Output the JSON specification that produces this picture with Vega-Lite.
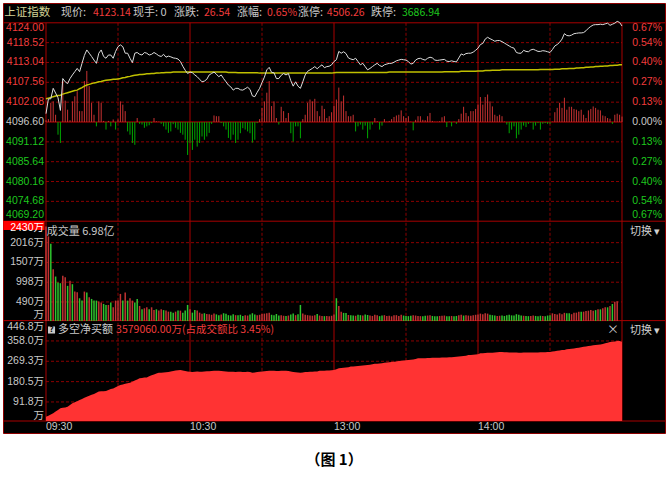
{
"$schema":"https://vega.github.io/schema/vega-lite/v6.json",
"width":662,"height":430,"autosize":"none",
"padding":{"left":3,"top":3,"right":3,"bottom":52},
"background":"#ffffff",
"config":{"view":{"fill":"#000000","stroke":"#8c0000"},"text":{"font":"Noto Sans CJK SC"}},
"title":{"text":"（图 1）","orient":"bottom","anchor":"middle","offset":20,"fontSize":15,"fontWeight":"bold","font":"Noto Sans CJK SC","color":"#000000","baseline":"top"},
"resolve":{"scale":{"y":"independent"}},
"datasets":{
"m":[
{"t":0,"p":4098.9,"a":4103.0,"b":0.5,"v":2430,"c":"r","n":27},
{"t":1,"p":4103.0,"a":4103.2,"b":0.8,"v":2177,"c":"r","n":32},
{"t":2,"p":4103.0,"a":4103.4,"b":5.3,"v":1988,"c":"g","n":37},
{"t":3,"p":4105.9,"a":4103.6,"b":5.7,"v":1334,"c":"r","n":42},
{"t":4,"p":4104.6,"a":4103.8,"b":2.0,"v":1144,"c":"g","n":50},
{"t":5,"p":4103.3,"a":4103.9,"b":-3.5,"v":989,"c":"g","n":57},
{"t":6,"p":4099.8,"a":4104.0,"b":-5.8,"v":973,"c":"g","n":64},
{"t":7,"p":4108.6,"a":4104.3,"b":11.3,"v":1162,"c":"r","n":66},
{"t":8,"p":4107.7,"a":4104.5,"b":5.9,"v":1128,"c":"r","n":68},
{"t":9,"p":4107.2,"a":4104.7,"b":3.4,"v":904,"c":"g","n":71},
{"t":10,"p":4108.6,"a":4104.9,"b":0.5,"v":1033,"c":"r","n":78},
{"t":11,"p":4109.6,"a":4105.1,"b":5.7,"v":947,"c":"g","n":86},
{"t":12,"p":4110.5,"a":4105.3,"b":7.1,"v":757,"c":"r","n":90},
{"t":13,"p":4111.4,"a":4105.4,"b":8.5,"v":740,"c":"r","n":95},
{"t":14,"p":4110.5,"a":4105.8,"b":3.0,"v":585,"c":"g","n":100},
{"t":15,"p":4112.8,"a":4106.1,"b":3.0,"v":525,"c":"g","n":105},
{"t":16,"p":4115.0,"a":4106.5,"b":11.3,"v":757,"c":"r","n":110},
{"t":17,"p":4116.5,"a":4106.8,"b":14.1,"v":732,"c":"g","n":115},
{"t":18,"p":4115.6,"a":4107.0,"b":9.9,"v":611,"c":"r","n":119},
{"t":19,"p":4114.7,"a":4107.2,"b":5.3,"v":568,"c":"g","n":123},
{"t":20,"p":4113.7,"a":4107.4,"b":2.0,"v":525,"c":"g","n":127},
{"t":21,"p":4112.8,"a":4107.5,"b":-1.2,"v":525,"c":"g","n":132},
{"t":22,"p":4115.6,"a":4107.7,"b":5.7,"v":499,"c":"r","n":137},
{"t":23,"p":4116.5,"a":4107.8,"b":5.3,"v":473,"c":"r","n":138},
{"t":24,"p":4114.7,"a":4108.0,"b":0.3,"v":439,"c":"g","n":139},
{"t":25,"p":4114.2,"a":4108.1,"b":-2.1,"v":413,"c":"g","n":140},
{"t":26,"p":4115.1,"a":4108.2,"b":0.3,"v":413,"c":"r","n":144},
{"t":27,"p":4115.1,"a":4108.3,"b":-1.2,"v":473,"c":"g","n":148},
{"t":28,"p":4114.2,"a":4108.4,"b":0.7,"v":353,"c":"r","n":151},
{"t":29,"p":4116.1,"a":4108.4,"b":-2.1,"v":525,"c":"r","n":156},
{"t":30,"p":4117.4,"a":4108.5,"b":0.7,"v":525,"c":"r","n":161},
{"t":31,"p":4117.9,"a":4108.6,"b":5.7,"v":697,"c":"r","n":166},
{"t":32,"p":4117.4,"a":4108.8,"b":4.8,"v":525,"c":"g","n":168},
{"t":33,"p":4115.6,"a":4108.9,"b":3.0,"v":732,"c":"r","n":171},
{"t":34,"p":4115.6,"a":4109.1,"b":-2.6,"v":525,"c":"g","n":173},
{"t":35,"p":4114.2,"a":4109.2,"b":-3.5,"v":585,"c":"r","n":176},
{"t":36,"p":4113.0,"a":4109.4,"b":-5.8,"v":525,"c":"r","n":180},
{"t":37,"p":4115.6,"a":4109.5,"b":-6.3,"v":473,"c":"g","n":185},
{"t":38,"p":4115.8,"a":4109.6,"b":1.1,"v":568,"c":"g","n":190},
{"t":39,"p":4115.3,"a":4109.7,"b":-0.5,"v":387,"c":"r","n":195},
{"t":40,"p":4115.1,"a":4109.7,"b":-0.7,"v":301,"c":"g","n":196},
{"t":41,"p":4115.8,"a":4109.8,"b":-1.6,"v":327,"c":"r","n":198},
{"t":42,"p":4115.6,"a":4109.9,"b":-1.2,"v":353,"c":"r","n":199},
{"t":43,"p":4115.1,"a":4109.9,"b":-0.9,"v":301,"c":"g","n":204},
{"t":44,"p":4115.3,"a":4110.0,"b":-0.3,"v":353,"c":"r","n":208},
{"t":45,"p":4115.8,"a":4110.0,"b":1.1,"v":280,"c":"r","n":212},
{"t":46,"p":4115.4,"a":4110.1,"b":0.2,"v":301,"c":"g","n":216},
{"t":47,"p":4114.9,"a":4110.1,"b":0.1,"v":267,"c":"r","n":219},
{"t":48,"p":4114.7,"a":4110.2,"b":-0.5,"v":301,"c":"r","n":219},
{"t":49,"p":4115.3,"a":4110.2,"b":-1.2,"v":280,"c":"g","n":220},
{"t":50,"p":4114.5,"a":4110.3,"b":-2.1,"v":267,"c":"r","n":221},
{"t":51,"p":4114.8,"a":4110.3,"b":-3.0,"v":241,"c":"r","n":223},
{"t":52,"p":4114.6,"a":4110.3,"b":-2.6,"v":241,"c":"g","n":225},
{"t":53,"p":4114.3,"a":4110.4,"b":-0.6,"v":215,"c":"g","n":227},
{"t":54,"p":4114.2,"a":4110.4,"b":-1.6,"v":241,"c":"r","n":229},
{"t":55,"p":4114.0,"a":4110.4,"b":-2.1,"v":267,"c":"g","n":230},
{"t":56,"p":4113.3,"a":4110.4,"b":-3.0,"v":267,"c":"r","n":231},
{"t":57,"p":4112.0,"a":4110.4,"b":-3.5,"v":215,"c":"g","n":229},
{"t":58,"p":4110.9,"a":4110.4,"b":-4.9,"v":267,"c":"g","n":227},
{"t":59,"p":4110.0,"a":4110.4,"b":-9.1,"v":413,"c":"g","n":225},
{"t":60,"p":4110.4,"a":4110.4,"b":-5.8,"v":301,"c":"r","n":224},
{"t":61,"p":4110.2,"a":4110.4,"b":-7.7,"v":215,"c":"g","n":223},
{"t":62,"p":4109.6,"a":4110.4,"b":-4.9,"v":280,"c":"g","n":224},
{"t":63,"p":4109.1,"a":4110.4,"b":-6.8,"v":267,"c":"r","n":225},
{"t":64,"p":4108.4,"a":4110.4,"b":-5.8,"v":215,"c":"r","n":224},
{"t":65,"p":4107.7,"a":4110.4,"b":-4.0,"v":189,"c":"r","n":224},
{"t":66,"p":4107.9,"a":4110.4,"b":-4.9,"v":200,"c":"g","n":225},
{"t":67,"p":4108.4,"a":4110.4,"b":-4.0,"v":180,"c":"r","n":226},
{"t":68,"p":4109.6,"a":4110.4,"b":-3.0,"v":175,"c":"r","n":226},
{"t":69,"p":4110.0,"a":4110.4,"b":-0.5,"v":160,"c":"r","n":227},
{"t":70,"p":4110.4,"a":4110.4,"b":1.8,"v":190,"c":"r","n":228},
{"t":71,"p":4109.8,"a":4110.4,"b":1.6,"v":170,"c":"g","n":228},
{"t":72,"p":4109.1,"a":4110.4,"b":1.6,"v":150,"c":"g","n":228},
{"t":73,"p":4109.6,"a":4110.4,"b":-0.3,"v":165,"c":"r","n":227},
{"t":74,"p":4108.6,"a":4110.4,"b":-1.2,"v":200,"c":"g","n":226},
{"t":75,"p":4107.7,"a":4110.4,"b":-2.1,"v":185,"c":"g","n":225},
{"t":76,"p":4106.8,"a":4110.3,"b":-4.4,"v":150,"c":"g","n":224},
{"t":77,"p":4106.3,"a":4110.3,"b":-4.9,"v":140,"c":"g","n":224},
{"t":78,"p":4105.4,"a":4110.3,"b":-3.5,"v":175,"c":"g","n":224},
{"t":79,"p":4105.9,"a":4110.3,"b":-5.8,"v":150,"c":"r","n":223},
{"t":80,"p":4105.9,"a":4110.2,"b":-4.9,"v":145,"c":"g","n":224},
{"t":81,"p":4105.5,"a":4110.2,"b":-3.1,"v":160,"c":"g","n":224},
{"t":82,"p":4105.4,"a":4110.2,"b":-1.7,"v":130,"c":"g","n":223},
{"t":83,"p":4105.8,"a":4110.2,"b":-2.1,"v":150,"c":"r","n":222},
{"t":84,"p":4106.2,"a":4110.2,"b":-2.6,"v":140,"c":"r","n":224},
{"t":85,"p":4105.6,"a":4110.2,"b":-3.1,"v":165,"c":"g","n":222},
{"t":86,"p":4103.8,"a":4110.2,"b":-5.7,"v":200,"c":"g","n":219},
{"t":87,"p":4103.6,"a":4110.2,"b":-4.9,"v":170,"c":"g","n":220},
{"t":88,"p":4104.8,"a":4110.2,"b":-0.3,"v":150,"c":"r","n":222},
{"t":89,"p":4105.9,"a":4110.1,"b":0.8,"v":160,"c":"r","n":224},
{"t":90,"p":4107.5,"a":4110.1,"b":3.9,"v":180,"c":"r","n":225},
{"t":91,"p":4109.0,"a":4110.1,"b":5.7,"v":190,"c":"r","n":226},
{"t":92,"p":4111.0,"a":4110.1,"b":8.1,"v":200,"c":"r","n":227},
{"t":93,"p":4111.7,"a":4110.1,"b":11.3,"v":215,"c":"r","n":228},
{"t":94,"p":4110.3,"a":4110.1,"b":4.4,"v":160,"c":"g","n":228},
{"t":95,"p":4110.2,"a":4110.1,"b":5.7,"v":150,"c":"g","n":228},
{"t":96,"p":4108.6,"a":4110.1,"b":1.1,"v":180,"c":"g","n":227},
{"t":97,"p":4108.6,"a":4110.1,"b":-0.7,"v":140,"c":"g","n":227},
{"t":98,"p":4109.5,"a":4110.1,"b":4.2,"v":150,"c":"r","n":228},
{"t":99,"p":4110.0,"a":4110.1,"b":3.0,"v":135,"c":"r","n":228},
{"t":100,"p":4109.6,"a":4110.1,"b":1.1,"v":130,"c":"g","n":228},
{"t":101,"p":4110.0,"a":4110.1,"b":2.5,"v":140,"c":"r","n":227},
{"t":102,"p":4108.0,"a":4110.1,"b":-3.1,"v":170,"c":"g","n":225},
{"t":103,"p":4106.5,"a":4110.1,"b":-5.4,"v":190,"c":"g","n":222},
{"t":104,"p":4107.7,"a":4110.1,"b":-1.2,"v":150,"c":"r","n":221},
{"t":105,"p":4106.5,"a":4110.1,"b":-1.2,"v":175,"c":"g","n":220},
{"t":106,"p":4105.9,"a":4110.1,"b":-4.5,"v":413,"c":"g","n":219},
{"t":107,"p":4107.7,"a":4110.1,"b":0.8,"v":190,"c":"r","n":220},
{"t":108,"p":4109.6,"a":4110.1,"b":2.0,"v":160,"c":"r","n":222},
{"t":109,"p":4110.6,"a":4110.1,"b":5.3,"v":150,"c":"r","n":223},
{"t":110,"p":4111.0,"a":4110.1,"b":6.2,"v":140,"c":"r","n":224},
{"t":111,"p":4111.4,"a":4110.1,"b":5.7,"v":135,"c":"r","n":224},
{"t":112,"p":4111.9,"a":4110.1,"b":6.4,"v":150,"c":"r","n":225},
{"t":113,"p":4111.3,"a":4110.1,"b":3.0,"v":180,"c":"g","n":225},
{"t":114,"p":4111.9,"a":4110.1,"b":1.6,"v":140,"c":"r","n":228},
{"t":115,"p":4112.4,"a":4110.1,"b":4.5,"v":130,"c":"r","n":228},
{"t":116,"p":4111.6,"a":4110.1,"b":3.6,"v":125,"c":"g","n":228},
{"t":117,"p":4111.9,"a":4110.1,"b":1.1,"v":130,"c":"r","n":229},
{"t":118,"p":4112.0,"a":4110.1,"b":1.6,"v":120,"c":"r","n":229},
{"t":119,"p":4112.4,"a":4110.1,"b":2.7,"v":135,"c":"r","n":230},
{"t":120,"p":4113.3,"a":4110.2,"b":4.4,"v":170,"c":"r","n":231},
{"t":121,"p":4113.8,"a":4110.3,"b":6.2,"v":586,"c":"g","n":235},
{"t":122,"p":4116.1,"a":4110.3,"b":9.5,"v":387,"c":"r","n":239},
{"t":123,"p":4115.6,"a":4110.3,"b":5.7,"v":240,"c":"r","n":240},
{"t":124,"p":4116.0,"a":4110.3,"b":7.3,"v":209,"c":"g","n":241},
{"t":125,"p":4115.5,"a":4110.3,"b":3.0,"v":209,"c":"g","n":242},
{"t":126,"p":4114.3,"a":4110.3,"b":1.6,"v":155,"c":"r","n":243},
{"t":127,"p":4114.0,"a":4110.3,"b":1.6,"v":150,"c":"g","n":246},
{"t":128,"p":4113.8,"a":4110.3,"b":2.0,"v":140,"c":"g","n":247},
{"t":129,"p":4114.2,"a":4110.3,"b":-2.6,"v":135,"c":"r","n":248},
{"t":130,"p":4113.3,"a":4110.3,"b":-1.2,"v":160,"c":"g","n":249},
{"t":131,"p":4112.4,"a":4110.3,"b":-0.7,"v":150,"c":"g","n":250},
{"t":132,"p":4112.8,"a":4110.3,"b":-2.1,"v":140,"c":"r","n":251},
{"t":133,"p":4111.9,"a":4110.3,"b":-1.0,"v":165,"c":"g","n":252},
{"t":134,"p":4111.0,"a":4110.3,"b":-4.5,"v":155,"c":"g","n":253},
{"t":135,"p":4111.4,"a":4110.3,"b":-2.1,"v":140,"c":"r","n":254},
{"t":136,"p":4111.9,"a":4110.3,"b":-0.7,"v":130,"c":"r","n":256},
{"t":137,"p":4112.4,"a":4110.3,"b":1.1,"v":160,"c":"r","n":258},
{"t":138,"p":4112.8,"a":4110.3,"b":0.2,"v":150,"c":"r","n":259},
{"t":139,"p":4112.2,"a":4110.3,"b":-2.1,"v":125,"c":"g","n":260},
{"t":140,"p":4111.9,"a":4110.3,"b":-1.0,"v":140,"c":"g","n":261},
{"t":141,"p":4112.4,"a":4110.3,"b":0.8,"v":150,"c":"r","n":263},
{"t":142,"p":4112.6,"a":4110.3,"b":0.1,"v":130,"c":"r","n":264},
{"t":143,"p":4112.8,"a":4110.4,"b":0.3,"v":135,"c":"r","n":265},
{"t":144,"p":4112.8,"a":4110.4,"b":0.8,"v":120,"c":"r","n":266},
{"t":145,"p":4113.1,"a":4110.4,"b":1.4,"v":145,"c":"r","n":267},
{"t":146,"p":4113.5,"a":4110.4,"b":1.8,"v":150,"c":"r","n":268},
{"t":147,"p":4113.7,"a":4110.4,"b":2.0,"v":130,"c":"r","n":270},
{"t":148,"p":4113.9,"a":4110.4,"b":3.2,"v":160,"c":"r","n":272},
{"t":149,"p":4113.8,"a":4110.4,"b":1.6,"v":140,"c":"g","n":273},
{"t":150,"p":4113.7,"a":4110.4,"b":1.1,"v":130,"c":"g","n":274},
{"t":151,"p":4113.3,"a":4110.4,"b":1.6,"v":125,"c":"g","n":275},
{"t":152,"p":4112.6,"a":4110.4,"b":0.1,"v":135,"c":"g","n":276},
{"t":153,"p":4112.8,"a":4110.4,"b":-2.3,"v":150,"c":"r","n":277},
{"t":154,"p":4113.7,"a":4110.4,"b":0.6,"v":140,"c":"r","n":279},
{"t":155,"p":4114.1,"a":4110.4,"b":1.6,"v":130,"c":"r","n":282},
{"t":156,"p":4114.2,"a":4110.4,"b":1.6,"v":125,"c":"r","n":282},
{"t":157,"p":4113.9,"a":4110.4,"b":0.6,"v":120,"c":"g","n":283},
{"t":158,"p":4113.7,"a":4110.4,"b":0.5,"v":135,"c":"g","n":283},
{"t":159,"p":4114.2,"a":4110.4,"b":1.6,"v":140,"c":"r","n":284},
{"t":160,"p":4114.5,"a":4110.4,"b":2.5,"v":150,"c":"r","n":284},
{"t":161,"p":4114.3,"a":4110.4,"b":0.3,"v":130,"c":"g","n":285},
{"t":162,"p":4113.7,"a":4110.4,"b":0.1,"v":125,"c":"g","n":285},
{"t":163,"p":4113.6,"a":4110.4,"b":0.1,"v":120,"c":"g","n":285},
{"t":164,"p":4113.7,"a":4110.4,"b":0.2,"v":130,"c":"r","n":285},
{"t":165,"p":4113.8,"a":4110.4,"b":1.3,"v":135,"c":"r","n":286},
{"t":166,"p":4113.9,"a":4110.5,"b":1.6,"v":140,"c":"r","n":286},
{"t":167,"p":4113.4,"a":4110.5,"b":-1.4,"v":125,"c":"g","n":286},
{"t":168,"p":4113.3,"a":4110.5,"b":0.1,"v":120,"c":"g","n":287},
{"t":169,"p":4113.5,"a":4110.5,"b":-1.2,"v":130,"c":"r","n":287},
{"t":170,"p":4113.3,"a":4110.5,"b":0.1,"v":125,"c":"g","n":288},
{"t":171,"p":4113.2,"a":4110.5,"b":-0.5,"v":130,"c":"g","n":289},
{"t":172,"p":4114.3,"a":4110.5,"b":0.8,"v":150,"c":"r","n":290},
{"t":173,"p":4115.4,"a":4110.6,"b":2.3,"v":160,"c":"r","n":291},
{"t":174,"p":4115.1,"a":4110.6,"b":4.2,"v":140,"c":"g","n":292},
{"t":175,"p":4115.5,"a":4110.6,"b":2.5,"v":150,"c":"r","n":293},
{"t":176,"p":4115.6,"a":4110.6,"b":1.6,"v":140,"c":"r","n":297},
{"t":177,"p":4115.6,"a":4110.6,"b":3.0,"v":135,"c":"r","n":297},
{"t":178,"p":4115.9,"a":4110.6,"b":3.0,"v":150,"c":"r","n":298},
{"t":179,"p":4116.4,"a":4110.6,"b":3.6,"v":160,"c":"r","n":299},
{"t":180,"p":4117.0,"a":4110.7,"b":4.8,"v":170,"c":"r","n":300},
{"t":181,"p":4118.0,"a":4110.7,"b":6.9,"v":190,"c":"r","n":304},
{"t":182,"p":4118.3,"a":4110.7,"b":4.8,"v":175,"c":"r","n":304},
{"t":183,"p":4119.5,"a":4110.8,"b":6.9,"v":200,"c":"r","n":305},
{"t":184,"p":4120.0,"a":4110.8,"b":7.6,"v":190,"c":"r","n":306},
{"t":185,"p":4119.6,"a":4110.8,"b":5.7,"v":160,"c":"g","n":306},
{"t":186,"p":4119.3,"a":4110.9,"b":4.3,"v":150,"c":"g","n":307},
{"t":187,"p":4118.9,"a":4110.9,"b":2.0,"v":140,"c":"g","n":308},
{"t":188,"p":4119.1,"a":4110.9,"b":1.6,"v":130,"c":"r","n":309},
{"t":189,"p":4119.1,"a":4110.9,"b":2.0,"v":135,"c":"r","n":310},
{"t":190,"p":4118.8,"a":4111.0,"b":1.6,"v":140,"c":"g","n":310},
{"t":191,"p":4118.4,"a":4111.0,"b":0.1,"v":130,"c":"g","n":309},
{"t":192,"p":4118.0,"a":4111.0,"b":-0.7,"v":150,"c":"g","n":309},
{"t":193,"p":4117.6,"a":4111.0,"b":-3.1,"v":160,"c":"g","n":308},
{"t":194,"p":4117.2,"a":4111.0,"b":-2.1,"v":145,"c":"g","n":308},
{"t":195,"p":4117.0,"a":4111.0,"b":-1.2,"v":140,"c":"g","n":308},
{"t":196,"p":4115.8,"a":4111.0,"b":-4.5,"v":175,"c":"g","n":308},
{"t":197,"p":4115.6,"a":4111.0,"b":-3.5,"v":160,"c":"g","n":307},
{"t":198,"p":4115.6,"a":4111.0,"b":-2.1,"v":140,"c":"g","n":307},
{"t":199,"p":4116.4,"a":4111.0,"b":-1.0,"v":135,"c":"r","n":308},
{"t":200,"p":4116.1,"a":4111.0,"b":-1.4,"v":130,"c":"g","n":308},
{"t":201,"p":4116.0,"a":4111.0,"b":-0.5,"v":125,"c":"g","n":308},
{"t":202,"p":4116.5,"a":4111.0,"b":-0.2,"v":130,"c":"r","n":308},
{"t":203,"p":4116.7,"a":4111.0,"b":-2.1,"v":140,"c":"r","n":308},
{"t":204,"p":4116.4,"a":4111.0,"b":-1.0,"v":130,"c":"g","n":308},
{"t":205,"p":4116.1,"a":4111.0,"b":-0.3,"v":125,"c":"g","n":308},
{"t":206,"p":4116.1,"a":4111.1,"b":-2.1,"v":135,"c":"g","n":309},
{"t":207,"p":4116.3,"a":4111.1,"b":-0.5,"v":130,"c":"r","n":309},
{"t":208,"p":4116.2,"a":4111.1,"b":-0.3,"v":125,"c":"g","n":309},
{"t":209,"p":4116.0,"a":4111.1,"b":-0.5,"v":140,"c":"g","n":310},
{"t":210,"p":4115.8,"a":4111.1,"b":-0.5,"v":150,"c":"g","n":310},
{"t":211,"p":4116.6,"a":4111.1,"b":0.1,"v":198,"c":"r","n":312},
{"t":212,"p":4117.6,"a":4111.2,"b":2.7,"v":180,"c":"r","n":313},
{"t":213,"p":4118.0,"a":4111.2,"b":3.9,"v":170,"c":"r","n":315},
{"t":214,"p":4118.6,"a":4111.2,"b":5.3,"v":198,"c":"r","n":316},
{"t":215,"p":4119.5,"a":4111.3,"b":3.9,"v":175,"c":"r","n":318},
{"t":216,"p":4121.0,"a":4111.3,"b":6.7,"v":210,"c":"r","n":319},
{"t":217,"p":4120.5,"a":4111.3,"b":3.4,"v":200,"c":"g","n":322},
{"t":218,"p":4120.4,"a":4111.4,"b":4.2,"v":198,"c":"g","n":323},
{"t":219,"p":4120.6,"a":4111.4,"b":4.2,"v":175,"c":"r","n":324},
{"t":220,"p":4121.0,"a":4111.4,"b":3.6,"v":210,"c":"r","n":325},
{"t":221,"p":4121.1,"a":4111.5,"b":3.4,"v":215,"c":"r","n":327},
{"t":222,"p":4121.2,"a":4111.5,"b":3.0,"v":240,"c":"r","n":328},
{"t":223,"p":4121.2,"a":4111.6,"b":3.4,"v":240,"c":"g","n":330},
{"t":224,"p":4121.3,"a":4111.6,"b":2.0,"v":240,"c":"r","n":333},
{"t":225,"p":4121.8,"a":4111.7,"b":1.1,"v":260,"c":"r","n":334},
{"t":226,"p":4122.5,"a":4111.7,"b":3.2,"v":265,"c":"r","n":336},
{"t":227,"p":4123.0,"a":4111.8,"b":3.6,"v":280,"c":"r","n":337},
{"t":228,"p":4123.4,"a":4111.8,"b":4.3,"v":265,"c":"r","n":339},
{"t":229,"p":4123.5,"a":4111.9,"b":3.9,"v":280,"c":"g","n":340},
{"t":230,"p":4123.5,"a":4111.9,"b":3.4,"v":300,"c":"r","n":341},
{"t":231,"p":4123.6,"a":4112.0,"b":3.2,"v":300,"c":"g","n":343},
{"t":232,"p":4123.5,"a":4112.0,"b":1.8,"v":327,"c":"r","n":345},
{"t":233,"p":4123.7,"a":4112.1,"b":1.6,"v":352,"c":"r","n":348},
{"t":234,"p":4123.9,"a":4112.1,"b":1.1,"v":352,"c":"g","n":350},
{"t":235,"p":4123.3,"a":4112.2,"b":0.9,"v":386,"c":"r","n":353},
{"t":236,"p":4123.6,"a":4112.2,"b":-0.5,"v":437,"c":"g","n":355},
{"t":237,"p":4123.9,"a":4112.3,"b":2.0,"v":497,"c":"r","n":356},
{"t":238,"p":4124.4,"a":4112.3,"b":2.3,"v":510,"c":"r","n":358},
{"t":239,"p":4124.1,"a":4112.4,"b":2.0,"n":358},
{"t":240,"p":4123.1,"a":4112.4,"b":1.5,"n":355}
],
"pl":[
{"v":4124.00,"l":"4124.00","r":"0.67%","s":"u","pos":"top"},
{"v":4118.52,"l":"4118.52","r":"0.54%","s":"u","pos":"mid"},
{"v":4113.04,"l":"4113.04","r":"0.40%","s":"u","pos":"mid"},
{"v":4107.56,"l":"4107.56","r":"0.27%","s":"u","pos":"mid"},
{"v":4102.08,"l":"4102.08","r":"0.13%","s":"u","pos":"mid"},
{"v":4096.60,"l":"4096.60","r":"0.00%","s":"f","pos":"mid"},
{"v":4091.12,"l":"4091.12","r":"0.13%","s":"d","pos":"mid"},
{"v":4085.64,"l":"4085.64","r":"0.27%","s":"d","pos":"mid"},
{"v":4080.16,"l":"4080.16","r":"0.40%","s":"d","pos":"mid"},
{"v":4074.68,"l":"4074.68","r":"0.54%","s":"d","pos":"mid"},
{"v":4069.20,"l":"4069.20","r":"0.67%","s":"d","pos":"bot"}
],
"vl":[
{"v":2430,"l":"2430万","pos":"top"},
{"v":2016,"l":"2016万","pos":"mid"},
{"v":1507,"l":"1507万","pos":"mid"},
{"v":998,"l":"998万","pos":"mid"},
{"v":490,"l":"490万","pos":"mid"},
{"v":0,"l":"万","pos":"bot"}
],
"nl":[
{"v":446.8,"l":"446.8万","pos":"top"},
{"v":358.0,"l":"358.0万","pos":"mid"},
{"v":269.3,"l":"269.3万","pos":"mid"},
{"v":180.5,"l":"180.5万","pos":"mid"},
{"v":91.8,"l":"91.8万","pos":"mid"},
{"v":8.7,"l":"万","pos":"bot"}
],
"vx":[
{"t":0,"k":"s"},{"t":30,"k":"d"},{"t":60,"k":"s"},{"t":90,"k":"d"},{"t":120,"k":"s"},
{"t":150,"k":"d"},{"t":180,"k":"s"},{"t":210,"k":"d"},{"t":240,"k":"s"}
],
"tl":[{"t":0,"l":"09:30"},{"t":60,"l":"10:30"},{"t":120,"l":"13:00"},{"t":180,"l":"14:00"}]
},
"layer":[
{"data":{"name":"pl"},"transform":[{"filter":"datum.pos=='mid' && datum.s!='f'"}],
 "mark":{"type":"rule","color":"#8c0000","strokeDash":[3,2],"strokeWidth":1},
 "encoding":{"y":{"field":"v","type":"quantitative","axis":null,"scale":{"domain":[4069.2,4124],"range":[218.2,19.8],"nice":false,"zero":false}},
  "x":{"datum":0,"type":"quantitative","axis":null,"scale":{"domain":[0,240],"range":[43,619],"nice":false,"zero":false}},"x2":{"datum":240}}},
{"data":{"name":"vl"},"transform":[{"filter":"datum.pos=='mid'"}],
 "mark":{"type":"rule","color":"#8c0000","strokeDash":[3,2],"strokeWidth":1},
 "encoding":{"y":{"field":"v","type":"quantitative","axis":null,"scale":{"domain":[0,2573],"range":[318,218],"nice":false,"zero":false}},
  "x":{"datum":0,"type":"quantitative","axis":null,"scale":{"domain":[0,240],"range":[43,619],"nice":false,"zero":false}},"x2":{"datum":240}}},
{"data":{"name":"nl"},"transform":[{"filter":"datum.pos=='mid'"}],
 "mark":{"type":"rule","color":"#8c0000","strokeDash":[3,2],"strokeWidth":1},
 "encoding":{"y":{"field":"v","type":"quantitative","axis":null,"scale":{"domain":[8.7,446.8],"range":[418,317.6],"nice":false,"zero":false}},
  "x":{"datum":0,"type":"quantitative","axis":null,"scale":{"domain":[0,240],"range":[43,619],"nice":false,"zero":false}},"x2":{"datum":240}}},
{"data":{"name":"vx"},"transform":[{"filter":"datum.k=='d'"}],
 "mark":{"type":"rule","color":"#8c0000","strokeDash":[3,2],"strokeWidth":1},
 "encoding":{"x":{"field":"t","type":"quantitative","axis":null,"scale":{"domain":[0,240],"range":[43,619],"nice":false,"zero":false}},
  "y":{"datum":4124,"type":"quantitative","axis":null,"scale":{"domain":[4069.2,4124],"range":[218.2,19.8],"nice":false,"zero":false}},"y2":{"datum":4014.0}}},
{"data":{"name":"vx"},"transform":[{"filter":"datum.k=='s'"}],
 "mark":{"type":"rule","color":"#a80000","strokeWidth":1},
 "encoding":{"x":{"field":"t","type":"quantitative","axis":null,"scale":{"domain":[0,240],"range":[43,619],"nice":false,"zero":false}},
  "y":{"datum":4124,"type":"quantitative","axis":null,"scale":{"domain":[4069.2,4124],"range":[218.2,19.8],"nice":false,"zero":false}},"y2":{"datum":4014.0}}},
{"data":{"values":[{"y":4124},{"y":4069.2}]},
 "mark":{"type":"rule","color":"#a80000","strokeWidth":1},
 "encoding":{"y":{"field":"y","type":"quantitative","axis":null,"scale":{"domain":[4069.2,4124],"range":[218.2,19.8],"nice":false,"zero":false}}}},
{"data":{"values":[{"y":446.8},{"y":8.7}]},
 "mark":{"type":"rule","color":"#a80000","strokeWidth":1},
 "encoding":{"y":{"field":"y","type":"quantitative","axis":null,"scale":{"domain":[8.7,446.8],"range":[418,317.6],"nice":false,"zero":false}}}},
{"data":{"name":"pl"},"transform":[{"filter":"datum.s=='f'"}],
 "mark":{"type":"rule","color":"#c80000","strokeWidth":1},
 "encoding":{"y":{"field":"v","type":"quantitative","axis":null,"scale":{"domain":[4069.2,4124],"range":[218.2,19.8],"nice":false,"zero":false}},
  "x":{"datum":0,"type":"quantitative","axis":null,"scale":{"domain":[0,240],"range":[43,619],"nice":false,"zero":false}},"x2":{"datum":240}}},
{"data":{"name":"m"},
 "mark":{"type":"rule","strokeWidth":1},
 "encoding":{"x":{"field":"t","type":"quantitative","axis":null,"scale":{"domain":[0,240],"range":[43,619],"nice":false,"zero":false}},
  "y":{"field":"b","type":"quantitative","axis":null,"scale":{"domain":[-27.4,27.4],"range":[218.2,19.8],"nice":false,"zero":false}},"y2":{"datum":0},
  "color":{"condition":{"test":"datum.b>=0","value":"#c83232"},"value":"#00a800"}}},
{"data":{"name":"m"},
 "mark":{"type":"line","color":"#c0c000","strokeWidth":1.5},
 "encoding":{"x":{"field":"t","type":"quantitative","axis":null,"scale":{"domain":[0,240],"range":[43,619],"nice":false,"zero":false}},
  "y":{"field":"a","type":"quantitative","axis":null,"scale":{"domain":[4069.2,4124],"range":[218.2,19.8],"nice":false,"zero":false}}}},
{"data":{"name":"m"},
 "mark":{"type":"line","color":"#dcdcdc","strokeWidth":1},
 "encoding":{"x":{"field":"t","type":"quantitative","axis":null,"scale":{"domain":[0,240],"range":[43,619],"nice":false,"zero":false}},
  "y":{"field":"p","type":"quantitative","axis":null,"scale":{"domain":[4069.2,4124],"range":[218.2,19.8],"nice":false,"zero":false}}}},
{"data":{"name":"m"},"transform":[{"filter":"isValid(datum.v)"}],
 "mark":{"type":"rule","strokeWidth":1.5},
 "encoding":{"x":{"field":"t","type":"quantitative","axis":null,"scale":{"domain":[0,240],"range":[43,619],"nice":false,"zero":false}},
  "y":{"field":"v","type":"quantitative","axis":null,"scale":{"domain":[0,2573],"range":[318,218],"nice":false,"zero":false}},"y2":{"datum":0},
  "color":{"condition":{"test":"datum.c=='r'","value":"#c03232"},"value":"#2ec42e"}}},
{"data":{"name":"m"},
 "mark":{"type":"area","color":"#ff3333","opacity":1},
 "encoding":{"x":{"field":"t","type":"quantitative","axis":null,"scale":{"domain":[0,240],"range":[43,619],"nice":false,"zero":false}},
  "y":{"field":"n","type":"quantitative","axis":null,"scale":{"domain":[8.7,446.8],"range":[418,317.6],"nice":false,"zero":false}},"y2":{"datum":8.7}}},
{"data":{"name":"pl"},"transform":[{"filter":"datum.pos=='top'"}],
 "mark":{"type":"text","align":"right","baseline":"middle","dy":5,"fontSize":10.5,"font":"Liberation Sans, Noto Sans CJK SC"},
 "encoding":{"text":{"field":"l"},"x":{"datum":-0.83,"type":"quantitative","axis":null,"scale":{"domain":[0,240],"range":[43,619],"nice":false,"zero":false}},
  "y":{"field":"v","type":"quantitative","axis":null,"scale":{"domain":[4069.2,4124],"range":[218.2,19.8],"nice":false,"zero":false}},
  "color":{"condition":[{"test":"datum.s=='u'","value":"#f03c3c"},{"test":"datum.s=='f'","value":"#c8c8c8"}],"value":"#1ec81e"}}},
{"data":{"name":"pl"},"transform":[{"filter":"datum.pos=='mid'"}],
 "mark":{"type":"text","align":"right","baseline":"middle","fontSize":10.5,"font":"Liberation Sans, Noto Sans CJK SC"},
 "encoding":{"text":{"field":"l"},"x":{"datum":-0.83,"type":"quantitative","axis":null,"scale":{"domain":[0,240],"range":[43,619],"nice":false,"zero":false}},
  "y":{"field":"v","type":"quantitative","axis":null,"scale":{"domain":[4069.2,4124],"range":[218.2,19.8],"nice":false,"zero":false}},
  "color":{"condition":[{"test":"datum.s=='u'","value":"#f03c3c"},{"test":"datum.s=='f'","value":"#c8c8c8"}],"value":"#1ec81e"}}},
{"data":{"name":"pl"},"transform":[{"filter":"datum.pos=='bot'"}],
 "mark":{"type":"text","align":"right","baseline":"middle","dy":-6,"fontSize":10.5,"font":"Liberation Sans, Noto Sans CJK SC"},
 "encoding":{"text":{"field":"l"},"x":{"datum":-0.83,"type":"quantitative","axis":null,"scale":{"domain":[0,240],"range":[43,619],"nice":false,"zero":false}},
  "y":{"field":"v","type":"quantitative","axis":null,"scale":{"domain":[4069.2,4124],"range":[218.2,19.8],"nice":false,"zero":false}},
  "color":{"condition":[{"test":"datum.s=='u'","value":"#f03c3c"},{"test":"datum.s=='f'","value":"#c8c8c8"}],"value":"#1ec81e"}}},
{"data":{"name":"pl"},"transform":[{"filter":"datum.pos=='top'"}],
 "mark":{"type":"text","align":"right","baseline":"middle","dy":5,"fontSize":10.5,"font":"Liberation Sans, Noto Sans CJK SC"},
 "encoding":{"text":{"field":"r"},"x":{"datum":256.67,"type":"quantitative","axis":null,"scale":{"domain":[0,240],"range":[43,619],"nice":false,"zero":false}},
  "y":{"field":"v","type":"quantitative","axis":null,"scale":{"domain":[4069.2,4124],"range":[218.2,19.8],"nice":false,"zero":false}},
  "color":{"condition":[{"test":"datum.s=='u'","value":"#f03c3c"},{"test":"datum.s=='f'","value":"#c8c8c8"}],"value":"#1ec81e"}}},
{"data":{"name":"pl"},"transform":[{"filter":"datum.pos=='mid'"}],
 "mark":{"type":"text","align":"right","baseline":"middle","fontSize":10.5,"font":"Liberation Sans, Noto Sans CJK SC"},
 "encoding":{"text":{"field":"r"},"x":{"datum":256.67,"type":"quantitative","axis":null,"scale":{"domain":[0,240],"range":[43,619],"nice":false,"zero":false}},
  "y":{"field":"v","type":"quantitative","axis":null,"scale":{"domain":[4069.2,4124],"range":[218.2,19.8],"nice":false,"zero":false}},
  "color":{"condition":[{"test":"datum.s=='u'","value":"#f03c3c"},{"test":"datum.s=='f'","value":"#c8c8c8"}],"value":"#1ec81e"}}},
{"data":{"name":"pl"},"transform":[{"filter":"datum.pos=='bot'"}],
 "mark":{"type":"text","align":"right","baseline":"middle","dy":-6,"fontSize":10.5,"font":"Liberation Sans, Noto Sans CJK SC"},
 "encoding":{"text":{"field":"r"},"x":{"datum":256.67,"type":"quantitative","axis":null,"scale":{"domain":[0,240],"range":[43,619],"nice":false,"zero":false}},
  "y":{"field":"v","type":"quantitative","axis":null,"scale":{"domain":[4069.2,4124],"range":[218.2,19.8],"nice":false,"zero":false}},
  "color":{"condition":[{"test":"datum.s=='u'","value":"#f03c3c"},{"test":"datum.s=='f'","value":"#c8c8c8"}],"value":"#1ec81e"}}},
{"data":{"values":[{}]},
 "mark":{"type":"rect","color":"#ff0000"},
 "encoding":{"x":{"datum":-17.8,"type":"quantitative","axis":null,"scale":{"domain":[0,240],"range":[43,619],"nice":false,"zero":false}},"x2":{"datum":-0.6},
  "y":{"datum":2573,"type":"quantitative","axis":null,"scale":{"domain":[0,2573],"range":[318,218],"nice":false,"zero":false}},"y2":{"datum":2341}}},
{"data":{"name":"vl"},"transform":[{"filter":"datum.pos=='top'"}],
 "mark":{"type":"text","align":"right","baseline":"middle","dy":1,"fontSize":10.5,"font":"Liberation Sans, Noto Sans CJK SC","color":"#ffffff"},
 "encoding":{"text":{"field":"l"},"x":{"datum":-0.83,"type":"quantitative","axis":null,"scale":{"domain":[0,240],"range":[43,619],"nice":false,"zero":false}},
  "y":{"field":"v","type":"quantitative","axis":null,"scale":{"domain":[0,2573],"range":[318,218],"nice":false,"zero":false}}}},
{"data":{"name":"vl"},"transform":[{"filter":"datum.pos=='mid'"}],
 "mark":{"type":"text","align":"right","baseline":"middle","fontSize":10.5,"font":"Liberation Sans, Noto Sans CJK SC","color":"#c8c8c8"},
 "encoding":{"text":{"field":"l"},"x":{"datum":-0.83,"type":"quantitative","axis":null,"scale":{"domain":[0,240],"range":[43,619],"nice":false,"zero":false}},
  "y":{"field":"v","type":"quantitative","axis":null,"scale":{"domain":[0,2573],"range":[318,218],"nice":false,"zero":false}}}},
{"data":{"name":"vl"},"transform":[{"filter":"datum.pos=='bot'"}],
 "mark":{"type":"text","align":"right","baseline":"middle","dy":-6.5,"fontSize":10.5,"font":"Liberation Sans, Noto Sans CJK SC","color":"#c8c8c8"},
 "encoding":{"text":{"field":"l"},"x":{"datum":-0.83,"type":"quantitative","axis":null,"scale":{"domain":[0,240],"range":[43,619],"nice":false,"zero":false}},
  "y":{"field":"v","type":"quantitative","axis":null,"scale":{"domain":[0,2573],"range":[318,218],"nice":false,"zero":false}}}},
{"data":{"name":"nl"},"transform":[{"filter":"datum.pos=='top'"}],
 "mark":{"type":"text","align":"right","baseline":"middle","dy":6.5,"fontSize":10.5,"font":"Liberation Sans, Noto Sans CJK SC","color":"#c8c8c8"},
 "encoding":{"text":{"field":"l"},"x":{"datum":-0.83,"type":"quantitative","axis":null,"scale":{"domain":[0,240],"range":[43,619],"nice":false,"zero":false}},
  "y":{"field":"v","type":"quantitative","axis":null,"scale":{"domain":[8.7,446.8],"range":[418,317.6],"nice":false,"zero":false}}}},
{"data":{"name":"nl"},"transform":[{"filter":"datum.pos=='mid'"}],
 "mark":{"type":"text","align":"right","baseline":"middle","fontSize":10.5,"font":"Liberation Sans, Noto Sans CJK SC","color":"#c8c8c8"},
 "encoding":{"text":{"field":"l"},"x":{"datum":-0.83,"type":"quantitative","axis":null,"scale":{"domain":[0,240],"range":[43,619],"nice":false,"zero":false}},
  "y":{"field":"v","type":"quantitative","axis":null,"scale":{"domain":[8.7,446.8],"range":[418,317.6],"nice":false,"zero":false}}}},
{"data":{"name":"nl"},"transform":[{"filter":"datum.pos=='bot'"}],
 "mark":{"type":"text","align":"right","baseline":"middle","dy":-5,"fontSize":10.5,"font":"Liberation Sans, Noto Sans CJK SC","color":"#c8c8c8"},
 "encoding":{"text":{"field":"l"},"x":{"datum":-0.83,"type":"quantitative","axis":null,"scale":{"domain":[0,240],"range":[43,619],"nice":false,"zero":false}},
  "y":{"field":"v","type":"quantitative","axis":null,"scale":{"domain":[8.7,446.8],"range":[418,317.6],"nice":false,"zero":false}}}},
{"data":{"name":"tl"},
 "mark":{"type":"text","align":"left","baseline":"middle","fontSize":10.5,"font":"Liberation Sans, Noto Sans CJK SC","color":"#c8c8c8"},
 "encoding":{"text":{"field":"l"},"x":{"field":"t","type":"quantitative","axis":null,"scale":{"domain":[0,240],"range":[43,619],"nice":false,"zero":false}},
  "y":{"datum":-17.5,"type":"quantitative","axis":null,"scale":{"domain":[8.7,446.8],"range":[418,317.6],"nice":false,"zero":false}}}},
{"data":{"values":[{}]},"mark":{"type":"text","text":"上证指数","align":"left","baseline":"middle","fontSize":11.5,"color":"#d2d296"},
 "encoding":{"x":{"datum":-17.4,"type":"quantitative","axis":null,"scale":{"domain":[0,240],"range":[43,619],"nice":false,"zero":false}},"y":{"datum":4126.7,"type":"quantitative","axis":null,"scale":{"domain":[4069.2,4124],"range":[218.2,19.8],"nice":false,"zero":false}}}},
{"data":{"values":[{}]},"mark":{"type":"text","text":"现价:","align":"left","baseline":"middle","fontSize":11,"color":"#c8c8c8"},
 "encoding":{"x":{"datum":6.25,"type":"quantitative","axis":null,"scale":{"domain":[0,240],"range":[43,619],"nice":false,"zero":false}},"y":{"datum":4126.7,"type":"quantitative","axis":null,"scale":{"domain":[4069.2,4124],"range":[218.2,19.8],"nice":false,"zero":false}}}},
{"data":{"values":[{}]},"mark":{"type":"text","text":"4123.14","align":"left","baseline":"middle","fontSize":10.5,"color":"#f03c3c"},
 "encoding":{"x":{"datum":19.6,"type":"quantitative","axis":null,"scale":{"domain":[0,240],"range":[43,619],"nice":false,"zero":false}},"y":{"datum":4126.7,"type":"quantitative","axis":null,"scale":{"domain":[4069.2,4124],"range":[218.2,19.8],"nice":false,"zero":false}}}},
{"data":{"values":[{}]},"mark":{"type":"text","text":"现手: 0","align":"left","baseline":"middle","fontSize":11,"color":"#c8c8c8"},
 "encoding":{"x":{"datum":36.25,"type":"quantitative","axis":null,"scale":{"domain":[0,240],"range":[43,619],"nice":false,"zero":false}},"y":{"datum":4126.7,"type":"quantitative","axis":null,"scale":{"domain":[4069.2,4124],"range":[218.2,19.8],"nice":false,"zero":false}}}},
{"data":{"values":[{}]},"mark":{"type":"text","text":"涨跌:","align":"left","baseline":"middle","fontSize":11,"color":"#c8c8c8"},
 "encoding":{"x":{"datum":53.3,"type":"quantitative","axis":null,"scale":{"domain":[0,240],"range":[43,619],"nice":false,"zero":false}},"y":{"datum":4126.7,"type":"quantitative","axis":null,"scale":{"domain":[4069.2,4124],"range":[218.2,19.8],"nice":false,"zero":false}}}},
{"data":{"values":[{}]},"mark":{"type":"text","text":"26.54","align":"left","baseline":"middle","fontSize":10.5,"color":"#f03c3c"},
 "encoding":{"x":{"datum":65.8,"type":"quantitative","axis":null,"scale":{"domain":[0,240],"range":[43,619],"nice":false,"zero":false}},"y":{"datum":4126.7,"type":"quantitative","axis":null,"scale":{"domain":[4069.2,4124],"range":[218.2,19.8],"nice":false,"zero":false}}}},
{"data":{"values":[{}]},"mark":{"type":"text","text":"涨幅:","align":"left","baseline":"middle","fontSize":11,"color":"#c8c8c8"},
 "encoding":{"x":{"datum":79.6,"type":"quantitative","axis":null,"scale":{"domain":[0,240],"range":[43,619],"nice":false,"zero":false}},"y":{"datum":4126.7,"type":"quantitative","axis":null,"scale":{"domain":[4069.2,4124],"range":[218.2,19.8],"nice":false,"zero":false}}}},
{"data":{"values":[{}]},"mark":{"type":"text","text":"0.65%","align":"left","baseline":"middle","fontSize":10.5,"color":"#f03c3c"},
 "encoding":{"x":{"datum":92.1,"type":"quantitative","axis":null,"scale":{"domain":[0,240],"range":[43,619],"nice":false,"zero":false}},"y":{"datum":4126.7,"type":"quantitative","axis":null,"scale":{"domain":[4069.2,4124],"range":[218.2,19.8],"nice":false,"zero":false}}}},
{"data":{"values":[{}]},"mark":{"type":"text","text":"涨停:","align":"left","baseline":"middle","fontSize":11,"color":"#c8c8c8"},
 "encoding":{"x":{"datum":105,"type":"quantitative","axis":null,"scale":{"domain":[0,240],"range":[43,619],"nice":false,"zero":false}},"y":{"datum":4126.7,"type":"quantitative","axis":null,"scale":{"domain":[4069.2,4124],"range":[218.2,19.8],"nice":false,"zero":false}}}},
{"data":{"values":[{}]},"mark":{"type":"text","text":"4506.26","align":"left","baseline":"middle","fontSize":10.5,"color":"#f03c3c"},
 "encoding":{"x":{"datum":117.0,"type":"quantitative","axis":null,"scale":{"domain":[0,240],"range":[43,619],"nice":false,"zero":false}},"y":{"datum":4126.7,"type":"quantitative","axis":null,"scale":{"domain":[4069.2,4124],"range":[218.2,19.8],"nice":false,"zero":false}}}},
{"data":{"values":[{}]},"mark":{"type":"text","text":"跌停:","align":"left","baseline":"middle","fontSize":11,"color":"#c8c8c8"},
 "encoding":{"x":{"datum":135.4,"type":"quantitative","axis":null,"scale":{"domain":[0,240],"range":[43,619],"nice":false,"zero":false}},"y":{"datum":4126.7,"type":"quantitative","axis":null,"scale":{"domain":[4069.2,4124],"range":[218.2,19.8],"nice":false,"zero":false}}}},
{"data":{"values":[{}]},"mark":{"type":"text","text":"3686.94","align":"left","baseline":"middle","fontSize":10.5,"color":"#1ec81e"},
 "encoding":{"x":{"datum":148.3,"type":"quantitative","axis":null,"scale":{"domain":[0,240],"range":[43,619],"nice":false,"zero":false}},"y":{"datum":4126.7,"type":"quantitative","axis":null,"scale":{"domain":[4069.2,4124],"range":[218.2,19.8],"nice":false,"zero":false}}}},
{"data":{"values":[{}]},"mark":{"type":"text","text":"成交量 6.98亿","align":"left","baseline":"middle","fontSize":11,"color":"#c8c8c8"},
 "encoding":{"x":{"datum":0.3,"type":"quantitative","axis":null,"scale":{"domain":[0,240],"range":[43,619],"nice":false,"zero":false}},"y":{"datum":2290,"type":"quantitative","axis":null,"scale":{"domain":[0,2573],"range":[318,218],"nice":false,"zero":false}}}},
{"data":{"values":[{}]},"mark":{"type":"text","text":"切换 ▾","align":"left","baseline":"middle","fontSize":11,"color":"#d0d0d0"},
 "encoding":{"x":{"datum":243.3,"type":"quantitative","axis":null,"scale":{"domain":[0,240],"range":[43,619],"nice":false,"zero":false}},"y":{"datum":2298,"type":"quantitative","axis":null,"scale":{"domain":[0,2573],"range":[318,218],"nice":false,"zero":false}}}},
{"data":{"values":[{}]},"mark":{"type":"text","text":"切换 ▾","align":"left","baseline":"middle","fontSize":11,"color":"#d0d0d0"},
 "encoding":{"x":{"datum":243.3,"type":"quantitative","axis":null,"scale":{"domain":[0,240],"range":[43,619],"nice":false,"zero":false}},"y":{"datum":401.4,"type":"quantitative","axis":null,"scale":{"domain":[8.7,446.8],"range":[418,317.6],"nice":false,"zero":false}}}},
{"data":{"values":[{}]},"mark":{"type":"text","text":"×","align":"center","baseline":"middle","fontSize":12,"color":"#c8c8c8"},
 "encoding":{"x":{"datum":236.25,"type":"quantitative","axis":null,"scale":{"domain":[0,240],"range":[43,619],"nice":false,"zero":false}},"y":{"datum":405.8,"type":"quantitative","axis":null,"scale":{"domain":[8.7,446.8],"range":[418,317.6],"nice":false,"zero":false}}}},
{"data":{"values":[{}]},"mark":{"type":"square","filled":true,"size":50,"color":"#c8c8c8","opacity":1},
 "encoding":{"x":{"datum":2.3,"type":"quantitative","axis":null,"scale":{"domain":[0,240],"range":[43,619],"nice":false,"zero":false}},"y":{"datum":405.8,"type":"quantitative","axis":null,"scale":{"domain":[8.7,446.8],"range":[418,317.6],"nice":false,"zero":false}}}},
{"data":{"values":[{}]},"mark":{"type":"text","text":"?","align":"center","baseline":"middle","fontSize":8,"fontWeight":"bold","color":"#000000"},
 "encoding":{"x":{"datum":2.3,"type":"quantitative","axis":null,"scale":{"domain":[0,240],"range":[43,619],"nice":false,"zero":false}},"y":{"datum":405.8,"type":"quantitative","axis":null,"scale":{"domain":[8.7,446.8],"range":[418,317.6],"nice":false,"zero":false}}}},
{"data":{"values":[{}]},"mark":{"type":"text","text":"多空净买额","align":"left","baseline":"middle","fontSize":11,"color":"#c8c8c8"},
 "encoding":{"x":{"datum":5.0,"type":"quantitative","axis":null,"scale":{"domain":[0,240],"range":[43,619],"nice":false,"zero":false}},"y":{"datum":405.8,"type":"quantitative","axis":null,"scale":{"domain":[8.7,446.8],"range":[418,317.6],"nice":false,"zero":false}}}},
{"data":{"values":[{}]},"mark":{"type":"text","text":"3579060.00万(占成交额比 3.45%)","align":"left","baseline":"middle","fontSize":10.5,"color":"#f03c3c"},
 "encoding":{"x":{"datum":29.2,"type":"quantitative","axis":null,"scale":{"domain":[0,240],"range":[43,619],"nice":false,"zero":false}},"y":{"datum":405.8,"type":"quantitative","axis":null,"scale":{"domain":[8.7,446.8],"range":[418,317.6],"nice":false,"zero":false}}}}
]
}
